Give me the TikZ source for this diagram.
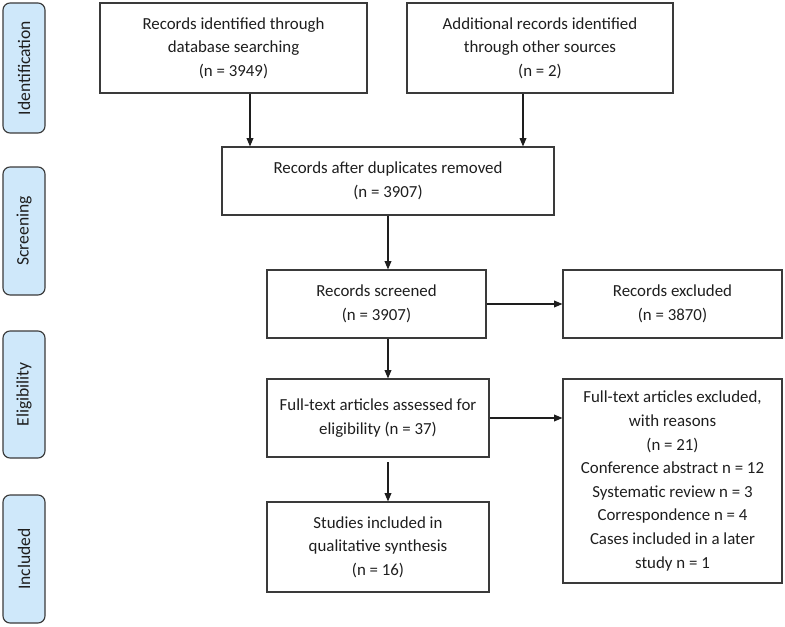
\documentclass[tikz,border=0pt]{standalone}
\usepackage{xcolor}
\usepackage{fontspec}
\setmainfont{Carlito}
\usepackage{tikz}
\usetikzlibrary{arrows.meta, positioning, calc}
\definecolor{Ink}{HTML}{1E1E1E}
\definecolor{Frame}{HTML}{3A3A3A}
\definecolor{PhaseBlue}{HTML}{CFE8FA}

\begin{document}
\begin{tikzpicture}[
  font=\fontsize{12}{16.8}\selectfont,
  box/.style={draw=Frame, line width=0.8pt, align=center, text=Ink, inner sep=0pt},
  phase/.style={draw=Frame, line width=0.8pt, fill=PhaseBlue, rounded corners=5pt, rotate=90,
    minimum height=1.05cm, text=Ink, font=\fontsize{12.5}{15}\selectfont, inner sep=0pt},
  arrow/.style={-{Triangle[length=2.1mm, width=1.7mm]}, line width=0.8pt, draw=Ink}
]
\useasboundingbox (0,0) rectangle (19.625,-15.675);

\node[phase, minimum width=3.25cm] (ident) at (0.6,-1.7) {Identification};
\node[phase, minimum width=3.2cm] (screening) at (0.6,-5.775) {Screening};
\node[phase, minimum width=3.175cm] (elig) at (0.6,-9.8625) {Eligibility};
\node[phase, minimum width=3.2cm] (incl) at (0.6,-13.975) {Included};

\node[box, minimum width=6.675cm, minimum height=2.25cm] (db) at (5.8375,-1.2)
  {Records identified through\\database searching\\(n = 3949)};
\node[box, minimum width=6.65cm, minimum height=2.25cm] (other) at (13.5,-1.2)
  {Additional records identified\\through other sources\\(n = 2)};
\node[box, minimum width=8.3cm, minimum height=1.7cm] (dup) at (9.7,-4.525)
  {Records after duplicates removed\\(n = 3907)};
\node[box, minimum width=5.475cm, minimum height=1.7cm] (screen) at (9.4125,-7.6)
  {Records screened\\(n = 3907)};
\node[box, minimum width=5.475cm, minimum height=1.7cm] (excl) at (16.8125,-7.6)
  {Records excluded\\(n = 3870)};
\node[box, minimum width=5.55cm, minimum height=1.95cm] (full) at (9.45,-10.45)
  {Full-text articles assessed for\\eligibility (n = 37)};
\node[box, minimum width=5.475cm, minimum height=5.1cm] (fullexcl) at (16.8125,-12.025)
  {Full-text articles excluded,\\with reasons\\(n = 21)\\Conference abstract n = 12\\Systematic review n = 3\\Correspondence n = 4\\Cases included in a later\\study n = 1};
\node[box, minimum width=5.55cm, minimum height=2.25cm] (studies) at (9.45,-13.675)
  {Studies included in\\qualitative synthesis\\(n = 16)};

\draw[arrow] ([xshift=0.4125cm]db.south) -- ([xshift=0.4125cm]db.south |- dup.north);
\draw[arrow] ([xshift=-0.425cm]other.south) -- ([xshift=-0.425cm]other.south |- dup.north);
\draw[arrow] (dup.south) -- (dup.south |- screen.north);
\draw[arrow] (screen.east) -- (excl.west);
\draw[arrow] (dup.south |- screen.south) -- (dup.south |- full.north);
\draw[arrow] (full.east) -- (full.east -| fullexcl.west);
\draw[arrow, shorten <=0.12cm] (dup.south |- full.south) -- (dup.south |- studies.north);
\end{tikzpicture}
\end{document}
